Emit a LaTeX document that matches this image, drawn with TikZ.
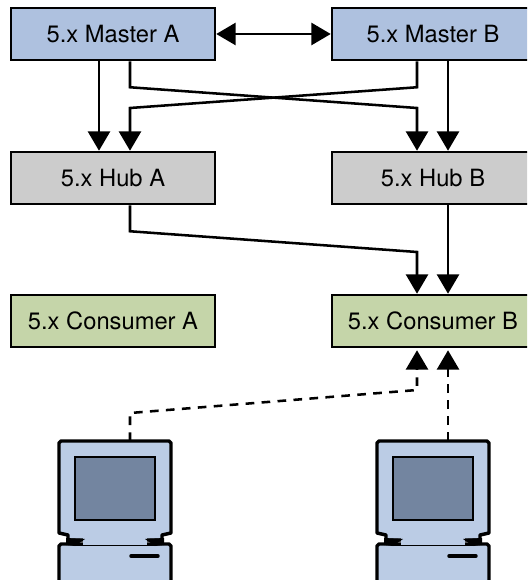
\documentclass[tikz,border=0pt]{standalone}
\usepackage{fontspec}
\setmainfont{TeX Gyre Heros}
\usetikzlibrary{arrows.meta}
\definecolor{masterblue}{HTML}{AEC1DF}
\definecolor{hubgray}{HTML}{CCCCCC}
\definecolor{consumergreen}{HTML}{C5D5A9}
\definecolor{bodyblue}{HTML}{BBCCE5}
\definecolor{screenblue}{HTML}{7385A0}
\tikzset{
  box/.style={draw, line width=1.9pt, minimum width=153pt, minimum height=39pt, inner sep=0pt, font=\fontsize{17.8}{20}\selectfont},
  flow/.style={line width=1.9pt, -{Triangle[width=16.5pt,length=14.5pt]}},
  query/.style={flow, dash pattern=on 6.5pt off 5.5pt},
  computer/.pic={
    % base
    \draw[fill=bodyblue, line width=2.6pt, line join=round]
      (0,105) -- (2,103) -- (110,103) -- (112,105) -- (112,150) -- (0,150) -- cycle;
    % monitor
    \draw[fill=bodyblue, line width=2.6pt, line join=round]
      (0,2) -- (2,0) -- (110,0) -- (112,2) -- (112,92) -- (103,94) -- (103,99) -- (9,99) -- (9,94) -- (0,92) -- cycle;
    \draw[fill=screenblue, line width=1.5pt] (16,16) rectangle (96,79);
    % neck
    \fill[bodyblue] (24,97) -- (88,97) -- (88,104) -- (24,104) -- cycle;
    \fill (7,97) -- (26,98) -- (16,105) -- (7,104) -- cycle;
    \fill (105,97) -- (86,98) -- (96,105) -- (105,104) -- cycle;
    \draw[line width=.75pt] (16,104.5) -- (96,104.5);
    \draw[line width=2.6pt, line cap=round] (72,115) -- (99,115);
    \coordinate (-top) at (71,0);
  }
}
\begin{document}
\begin{tikzpicture}[x=.75pt, y=-.75pt]
  \useasboundingbox (0,0) rectangle (527,580);
  \clip (0,0) rectangle (527,580);
  \node[box, fill=masterblue] (masterA) at (113,34) {5.x Master A};
  \node[box, fill=masterblue] (masterB) at (434,34) {\hspace*{-1.5pt}5.x Master B};
  \node[box, fill=hubgray] (hubA) at (113,178) {5.x Hub A};
  \node[box, fill=hubgray] (hubB) at (434,178) {\hspace*{-1.5pt}5.x Hub B};
  \node[box, fill=consumergreen] (consumerA) at (113,321) {5.x Consumer A};
  \node[box, fill=consumergreen] (consumerB) at (434,321) {\hspace*{-1.5pt}5.x Consumer B};
  \pic (clientA) at (59,441) {computer};
  \pic (clientB) at (377,441) {computer};
%
  \draw[flow, {Triangle[width=16.5pt,length=14.5pt]}-{Triangle[width=16.5pt,length=14.5pt]}] (masterA) -- (masterB);
  \draw[flow] ([xshift=-10.5pt]masterA.south) -- ([xshift=-10.5pt]hubA.north);
  \draw[flow] ([xshift=12.75pt]masterA.south) -- ++(0,26) -- (417,108) -- ([xshift=-12.75pt]hubB.north);
  \draw[flow] ([xshift=-12.75pt]masterB.south) -- ++(0,26) -- (130,108) -- ([xshift=12.75pt]hubA.north);
  \draw[flow] ([xshift=10.5pt]masterB.south) -- ([xshift=10.5pt]hubB.north);
  \draw[flow] ([xshift=12.75pt]hubA.south) -- ++(0,26) -- (417,252) -- ([xshift=-12.75pt]consumerB.north);
  \draw[flow] ([xshift=10.5pt]hubB.south) -- ([xshift=10.5pt]consumerB.north);
  \draw[query] (clientA-top) -- ++(0,-28) -- (417,390) -- ([xshift=-12.75pt,yshift=-1.5pt]consumerB.south);
  \draw[query] (clientB-top) -- ([yshift=-1.5pt,xshift=10.5pt]consumerB.south);
\end{tikzpicture}
\end{document}
